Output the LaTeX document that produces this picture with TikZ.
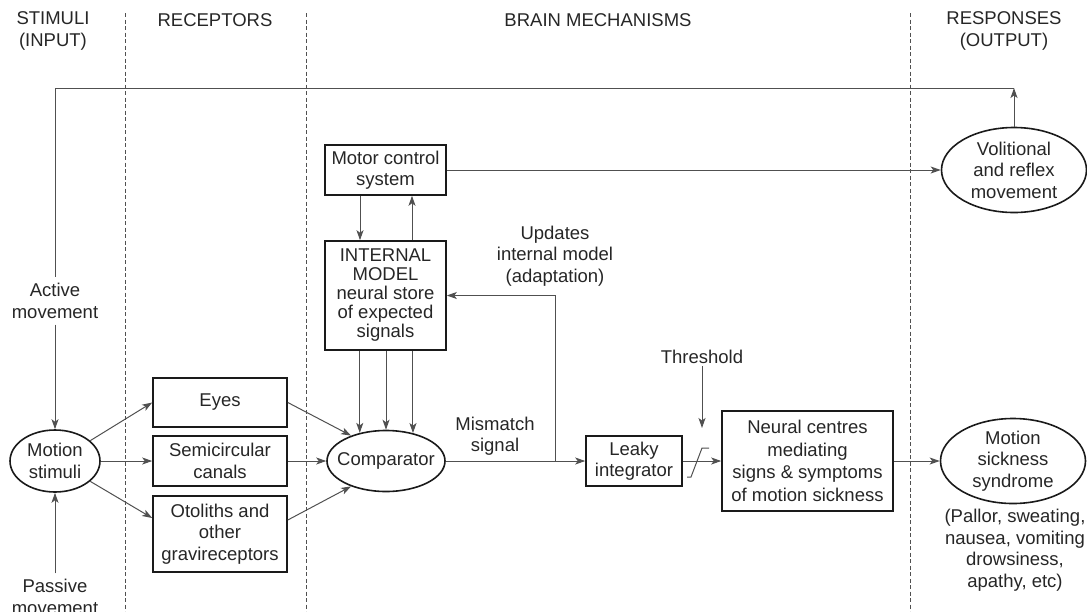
\documentclass[tikz,border=0pt]{standalone}
\usepackage{fontspec}
\setmainfont{Liberation Sans}
\usetikzlibrary{shapes.geometric,arrows.meta,calc}
\definecolor{txt}{HTML}{262626}
\definecolor{ln}{HTML}{505050}
\definecolor{bx}{HTML}{1A1A1A}
\begin{document}
\begin{tikzpicture}[x=1pt,y=-1pt,
  every node/.style={font=\fontsize{18.5}{21.5}\selectfont, text=txt},
  box/.style={draw=bx, line width=1.6pt, align=center, inner sep=0pt},
  ell/.style={draw=bx, line width=1.6pt, ellipse, inner sep=0pt},
  conn/.style={draw=ln, line width=1pt},
  arr/.style={conn, -{Stealth[length=10pt,width=7pt,inset=2.5pt]}},
  sep/.style={draw=ln, line width=0.9pt, dash pattern=on 4pt off 2.5pt},
  lbl/.style={align=center, inner sep=2pt}]
\useasboundingbox (0,0) rectangle (1087,611);

% column separators
\draw[sep] (125,13) -- (125,611);
\draw[sep] (306,13) -- (306,611);
\draw[sep] (910,13) -- (910,611);

% headers
\node[lbl] (h1) at (53,31) {STIMULI\\(INPUT)};
\node[lbl] (h2) at (215,20) {RECEPTORS};
\node[lbl] (h3) at (598,20) {BRAIN MECHANISMS};
\node[lbl] (h4) at (1004,31) {RESPONSES\\(OUTPUT)};

% nodes
\node[ell, minimum width=90pt, minimum height=62pt, label={[lbl]center:{Motion\\stimuli}}] (motion) at (55,461) {};
\node[box, minimum width=134pt, minimum height=49pt] (eyes) at (220,402.5) {Eyes};
\node[box, minimum width=134pt, minimum height=50pt] (semi) at (220,461) {Semicircular\\canals};
\node[box, minimum width=134pt, minimum height=76pt] (otol) at (220,534) {Otoliths and\\other\\gravireceptors};
\node[ell, minimum width=118pt, minimum height=61pt, label={[lbl]center:Comparator}] (comp) at (386,461) {};
\node[box, minimum width=121pt, minimum height=50pt] (motor) at (385.5,170) {Motor control\\system};
\node[box, minimum width=121pt, minimum height=109pt, font=\fontsize{18.5}{19}\selectfont] (intm) at (385.5,295.5) {INTERNAL\\MODEL\\neural store\\of expected\\signals};
\node[box, minimum width=96pt, minimum height=50pt] (leaky) at (634,461) {Leaky\\integrator};
\node[box, minimum width=171pt, minimum height=100pt, font=\fontsize{18.5}{22.5}\selectfont] (neural) at (807.5,461) {Neural centres\\mediating\\signs \& symptoms\\of motion sickness};
\node[ell, minimum width=145pt, minimum height=85pt, label={[lbl]center:{Volitional\\and reflex\\movement}}] (vol) at (1014,170) {};
\node[ell, minimum width=145pt, minimum height=85pt, label={[lbl]center:{Motion\\sickness\\syndrome}}] (sick) at (1013,461) {};

% labels
\node[lbl, inner sep=6pt] (active) at (55,301) {Active\\movement};
\node[lbl, inner sep=6pt] (passive) at (55,597) {Passive\\movement};
\node[lbl] (mism) at (495,436) {Mismatch\\signal};
\node[lbl] (upds) at (555,256) {Updates\\internal model\\(adaptation)};
\node[lbl] (thr) at (702,357) {Threshold};
\node[lbl] (pallor) at (1015,550) {(Pallor, sweating,\\nausea, vomiting\\drowsiness,\\apathy, etc)};

% coordinates
\coordinate (tl) at (55,88);
\coordinate (tr) at (vol.north |- tl);
\coordinate (upd) at (555,461);
\coordinate (thrtip) at (702,428);

% top feedback loop
\draw[arr] (vol.north) -- (tr);
\draw[conn] (tr) -- (tl) -- (active.north);
\draw[arr] (active.south) -- (motion.north);
\draw[arr] (passive.north) -- (motion.south);

% stimuli to receptors
\draw[arr] (motion.30) -- (eyes.west);
\draw[arr] (motion.east) -- (semi.west);
\draw[arr] (motion.-30) -- ([yshift=16pt]otol.west);

% receptors to comparator
\draw[arr] (eyes.east) -- (comp.144);
\draw[arr] (semi.east) -- (comp.west);
\draw[arr] ([yshift=14pt]otol.east) -- (comp.216);

% motor / internal model
\draw[arr] ([xshift=-25.5pt]motor.south) -- ([xshift=-25.5pt]intm.north);
\draw[arr] ([xshift=26.5pt]intm.north) -- ([xshift=26.5pt]motor.south);
\draw[arr] (comp.133.5 |- intm.south) -- (comp.133.5);
\draw[arr] (comp.north |- intm.south) -- (comp.north);
\draw[arr] (comp.46.5 |- intm.south) -- (comp.46.5);
\draw[arr] (motor.east) -- (vol.west);

% main chain
\draw[arr] (comp.east) -- (leaky.west);
\draw[arr] (upd) |- (intm.east);
\draw[arr] (leaky.east) -- (neural.west);
\draw[arr] (thr.south) -- (thrtip);
\draw[conn] (687,477) -- (691,477) -- (702,448) -- (709,448);
\draw[arr] (neural.east) -- (sick.west);
\end{tikzpicture}
\end{document}
